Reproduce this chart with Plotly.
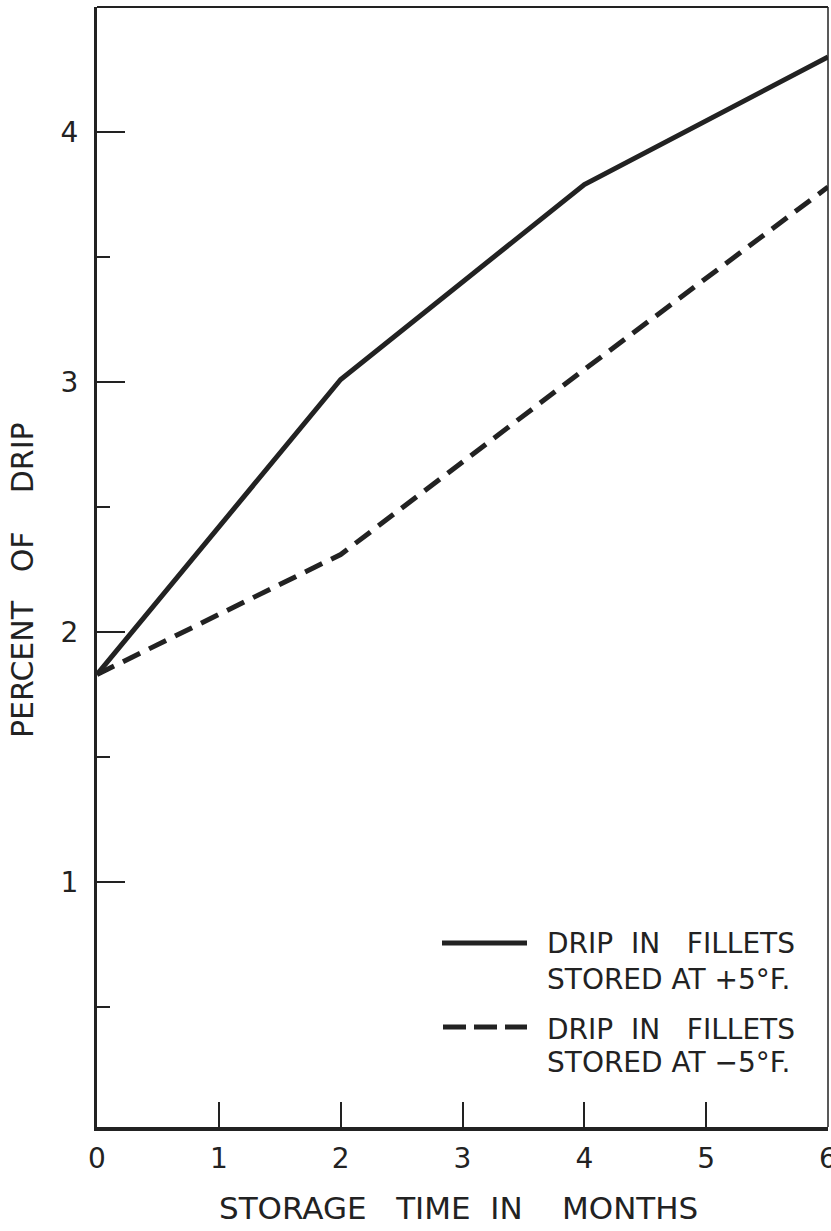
import plotly.graph_objects as go

# Data
months = [0, 2, 4, 6]
drip_plus5 = [1.83, 3.01, 3.79, 4.30]
drip_minus5 = [1.83, 2.31, 3.05, 3.78]

x_tick_vals = [0, 1, 2, 3, 4, 5, 6]
x_tick_text = ["0", "1", "2", "3", "4", "5", "6"]
y_tick_vals = [1, 2, 3, 4]
y_tick_text = ["1", "2", "3", "4"]
y_minor_vals = [0.5, 1.5, 2.5, 3.5]

def nb(n):
    return "\u00a0" * n

legend_plus5 = ["DRIP" + nb(2) + "IN" + nb(3) + "FILLETS", "STORED AT +5°F."]
legend_minus5 = ["DRIP" + nb(2) + "IN" + nb(3) + "FILLETS", "STORED AT −5°F."]
x_title = "STORAGE" + nb(3) + "TIME" + nb(2) + "IN" + nb(4) + "MONTHS"
y_title = "PERCENT" + nb(3) + "OF" + nb(4) + "DRIP"

INK = "#222222"
FONT = "DejaVu Sans"

fig = go.Figure()
fig.add_trace(go.Scatter(x=months, y=drip_plus5, mode="lines",
                         line=dict(color=INK, width=5), showlegend=False))
fig.add_trace(go.Scatter(x=months, y=drip_minus5, mode="lines",
                         line=dict(color=INK, width=5, dash="19px,10px"),
                         showlegend=False))

W, H = 831, 1231
L, R, T, B = 97, 3, 7, 104
pw, ph = W - L - R, H - T - B

def px(xp):
    return (xp - L) / pw

def py(yp):
    return (H - B - yp) / ph

fig.update_layout(
    width=W, height=H,
    margin=dict(l=L, r=R, t=T, b=B, autoexpand=False),
    paper_bgcolor="white", plot_bgcolor="white",
    font=dict(family=FONT, color=INK, size=26),
    xaxis=dict(range=[0, 6], tickvals=x_tick_vals, ticktext=x_tick_text,
               ticks="inside", ticklen=25, tickwidth=1.5, tickcolor=INK,
               showline=True, linewidth=3.5, linecolor=INK,
               showgrid=False, zeroline=False, automargin=False,
               tickfont=dict(size=28, family=FONT, color=INK),
               ticklabelstandoff=4, ticklabeloverflow="allow"),
    yaxis=dict(range=[0.02, 4.5], tickvals=y_tick_vals, ticktext=y_tick_text,
               ticks="inside", ticklen=28, tickwidth=1.5, tickcolor=INK,
               showline=True, linewidth=3, linecolor=INK,
               showgrid=False, zeroline=False, automargin=False,
               tickfont=dict(size=28, family=FONT, color=INK),
               ticklabelstandoff=10,
               minor=dict(tickvals=y_minor_vals, ticks="inside", ticklen=13,
                          tickwidth=1.5, tickcolor=INK)),
)

# Thin top and right frame
fig.add_shape(type="line", xref="paper", yref="paper", x0=0, x1=1, y0=1, y1=1,
              line=dict(color=INK, width=2))
fig.add_shape(type="line", xref="paper", yref="paper", x0=1, x1=1, y0=0, y1=1,
              line=dict(color=INK, width=1.5))

# Axis titles
fig.add_annotation(text=x_title, xref="paper", yref="paper",
                   x=px(458), y=py(1208), showarrow=False,
                   xanchor="center", yanchor="middle",
                   font=dict(size=31, family=FONT, color=INK))
fig.add_annotation(text=y_title, xref="paper", yref="paper",
                   x=px(22), y=py(580), showarrow=False, textangle=-90,
                   xanchor="center", yanchor="middle",
                   font=dict(size=30, family=FONT, color=INK))

# Legend
fig.add_shape(type="line", xref="paper", yref="paper", x0=px(442), x1=px(527),
              y0=py(943), y1=py(943), line=dict(color=INK, width=5))
fig.add_shape(type="line", xref="paper", yref="paper", x0=px(443), x1=px(527),
              y0=py(1027), y1=py(1027), line=dict(color=INK, width=5, dash="23px,8px"))
for t, yy in zip(legend_plus5, [943, 979]):
    fig.add_annotation(text=t, xref="paper", yref="paper", x=px(545),
                       y=py(yy), xanchor="left", yanchor="middle", showarrow=False,
                       font=dict(size=28, family=FONT, color=INK))
for t, yy in zip(legend_minus5, [1029, 1062]):
    fig.add_annotation(text=t, xref="paper", yref="paper", x=px(545),
                       y=py(yy), xanchor="left", yanchor="middle", showarrow=False,
                       font=dict(size=28, family=FONT, color=INK))

fig.write_html("out.html", config={"displayModeBar": False},
               post_script="document.body.style.margin='0px';document.body.style.overflow='hidden';")
